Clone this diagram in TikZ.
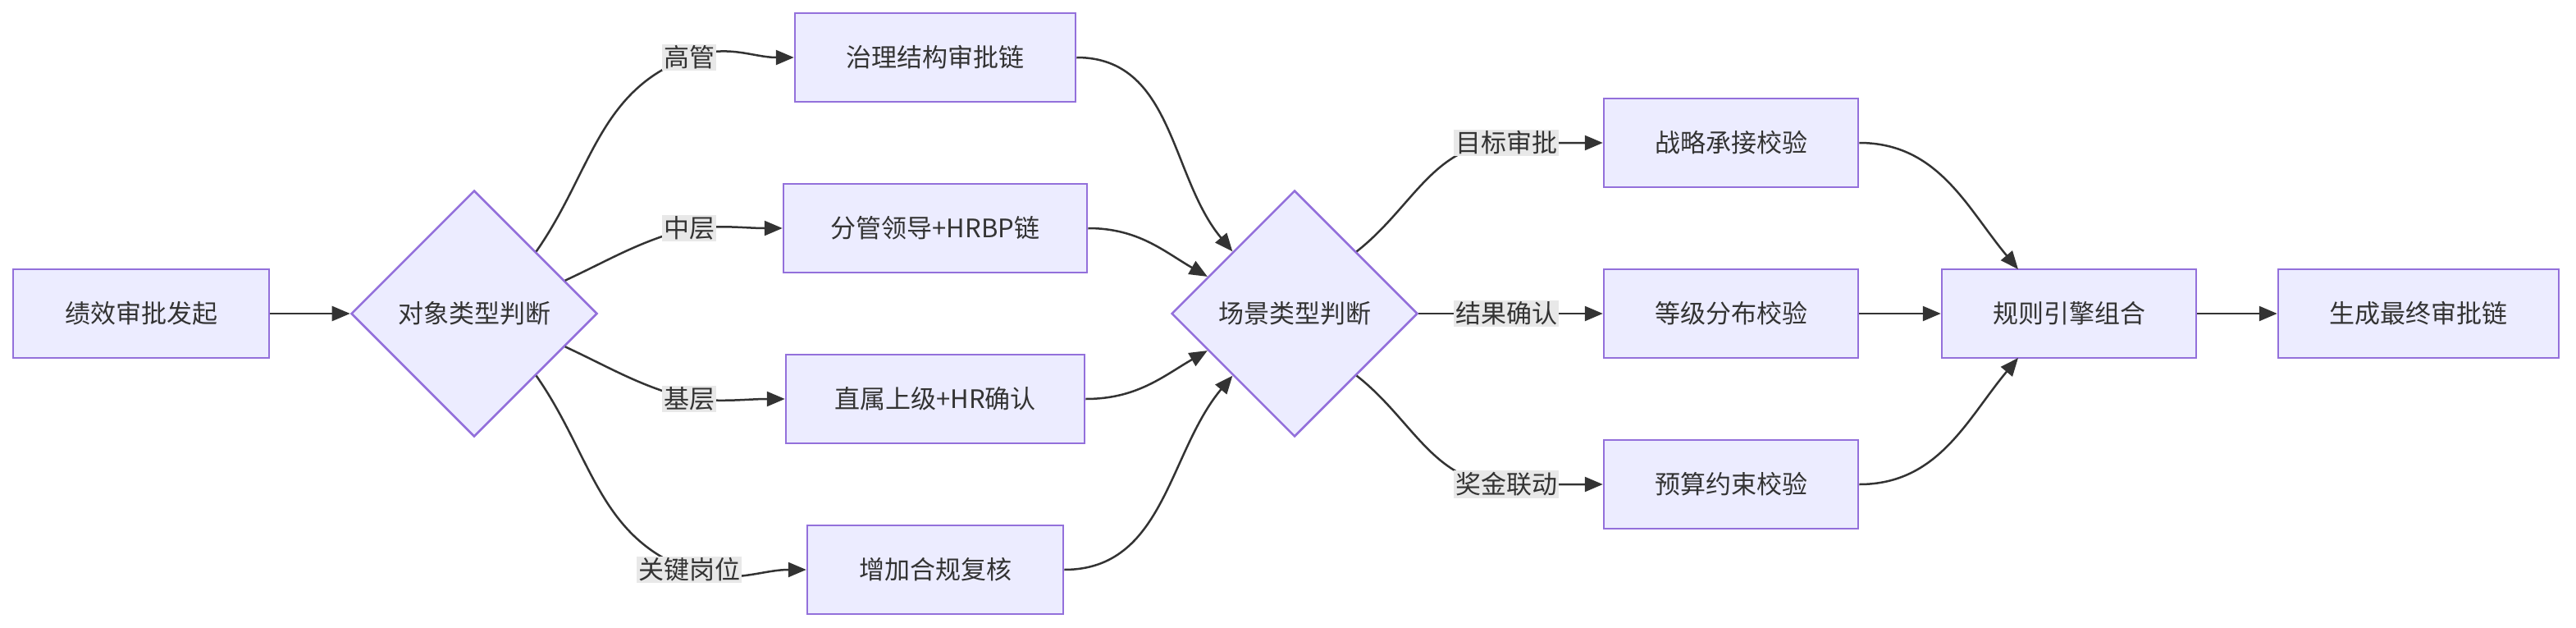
\documentclass[tikz,border=0pt]{standalone}
\usepackage{fontspec}
\setmainfont{Noto Sans CJK SC}
\usetikzlibrary{shapes.geometric,arrows.meta}
\definecolor{nfill}{HTML}{ECECFF}
\definecolor{ndraw}{HTML}{9370DB}
\definecolor{ln}{HTML}{333333}
\definecolor{lbg}{HTML}{E8E8E8}
\tikzset{
 box/.style={draw=ndraw,fill=nfill,line width=2.5pt,minimum height=108pt,inner sep=0pt,font=\fontsize{31}{37}\selectfont,text=ln},
 dia/.style={diamond,aspect=1,draw=ndraw,fill=nfill,line width=2.5pt,minimum width=300pt,minimum height=300pt,inner sep=0pt,font=\fontsize{31}{37}\selectfont,text=ln},
 lbl/.style={fill=lbg,inner sep=2pt,font=\fontsize{31}{37}\selectfont,text=ln},
 arr/.style={draw=ln,line width=2.5pt,-{Triangle[length=22pt,width=18pt]}},
 ln/.style={draw=ln,line width=2.5pt}
}
\begin{document}
\begin{tikzpicture}[x=2pt,y=-2pt]
\useasboundingbox (0,0) rectangle (1570,382);
\node[box,minimum width=312pt] (A) at (86,191) {绩效审批发起};
\node[dia] (B) at (289,191) {对象类型判断};
\node[box,minimum width=342pt] (C1) at (570,35) {治理结构审批链};
\node[box,minimum width=370pt] (C2) at (570,139) {分管领导+HRBP链};
\node[box,minimum width=364pt] (C3) at (570,243) {直属上级+HR确认};
\node[box,minimum width=312pt] (C4) at (570,347) {增加合规复核};
\node[dia] (D) at (789,191) {场景类型判断};
\node[box,minimum width=310pt] (E1) at (1055,87) {战略承接校验};
\node[box,minimum width=310pt] (E2) at (1055,191) {等级分布校验};
\node[box,minimum width=310pt] (E3) at (1055,295) {预算约束校验};
\node[box,minimum width=310pt] (F) at (1261,191) {规则引擎组合};
\node[box,minimum width=342pt] (G) at (1474,191) {生成最终审批链};
\coordinate (L1) at (420,35);
\coordinate (L2) at (420,139);
\coordinate (L3) at (420,243);
\coordinate (L4) at (420,347);
\coordinate (M1) at (918,87);
\coordinate (M2) at (918,191);
\coordinate (M3) at (918,295);
\coordinate (Fn) at (1230,164);
\coordinate (Fs) at (1230,218);
\draw[arr] (A) -- (B);
\draw[arr] (B.north east) to[out=55,in=200] (L1) to[out=20,in=180] (C1.west);
\draw[arr] (B.20) to[out=25,in=195] (L2) to[out=5,in=180] (C2.west);
\draw[arr] (B.-20) to[out=-25,in=165] (L3) to[out=-5,in=180] (C3.west);
\draw[arr] (B.south east) to[out=-55,in=160] (L4) to[out=-20,in=180] (C4.west);
\draw[arr] (C1.east) to[out=0,in=130] (D.north west);
\draw[arr] (C2.east) to[out=0,in=150] (D.157);
\draw[arr] (C3.east) to[out=0,in=210] (D.-157);
\draw[arr] (C4.east) to[out=0,in=230] (D.south west);
\draw[arr] (D.north east) to[out=38,in=180] (M1) -- (E1.west);
\draw[arr] (D.east) -- (E2.west);
\draw[arr] (D.south east) to[out=-38,in=180] (M3) -- (E3.west);
\draw[arr] (E1.east) to[out=0,in=130] (Fn);
\draw[arr] (E2.east) -- (F.west);
\draw[arr] (E3.east) to[out=0,in=-130] (Fs);
\draw[arr] (F.east) -- (G.west);
\node[lbl] at (L1) {高管};
\node[lbl] at (L2) {中层};
\node[lbl] at (L3) {基层};
\node[lbl] at (L4) {关键岗位};
\node[lbl] at (M1) {目标审批};
\node[lbl] at (M2) {结果确认};
\node[lbl] at (M3) {奖金联动};
\end{tikzpicture}
\end{document}
